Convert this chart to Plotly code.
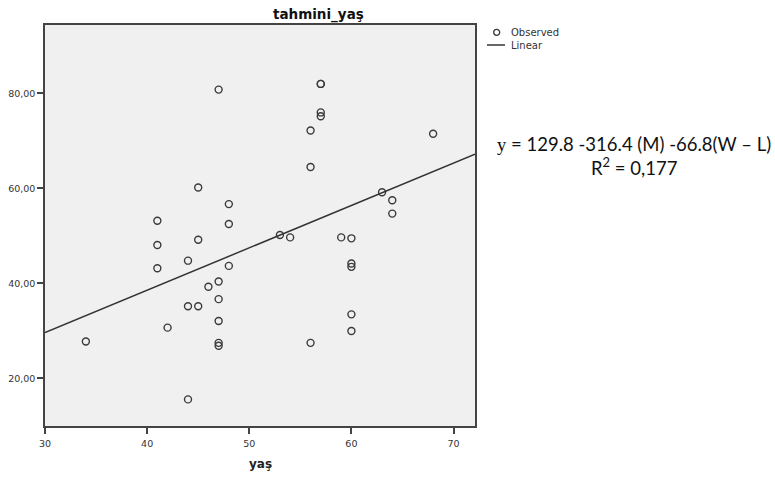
import numpy as np
import plotly.graph_objects as go

# Observed data (yaş vs tahmini_yaş)
age = [34, 41, 41, 41, 42, 44, 44, 44, 45, 45, 45, 46, 47, 47, 47, 47, 47, 47,
       48, 48, 48, 53, 54, 56, 56, 56, 57, 57, 57, 57, 59, 60, 60, 60, 60, 60,
       63, 64, 64, 68]
est_age = [27.8, 53.2, 48.1, 43.2, 30.7, 44.8, 35.2, 15.6, 60.2, 49.2, 35.2, 39.3,
           80.8, 40.4, 36.7, 32.1, 27.5, 26.9, 56.7, 52.5, 43.7, 50.2, 49.7, 72.2,
           64.5, 27.5, 82.0, 82.0, 76.0, 75.2, 49.7, 49.5, 44.2, 43.5, 33.5, 30.0,
           59.2, 57.5, 54.7, 71.5]

x_ticks = [30, 40, 50, 60, 70]
y_ticks = [20, 40, 60, 80]
y_tick_labels = ["20,00", "40,00", "60,00", "80,00"]
x_range = [30, 72.1]
y_range = [10, 94.4]

# linear fit from the data
slope, intercept = np.polyfit(age, est_age, 1)
fit_x = np.array(x_range)
fit_y = intercept + slope * fit_x

fig = go.Figure()
fig.add_trace(go.Scatter(
    x=age, y=est_age, mode="markers", name="Observed",
    marker=dict(symbol="circle-open", size=7, color="#3a3a3a", line=dict(width=1.4)),
    showlegend=False))
fig.add_trace(go.Scatter(
    x=fit_x, y=fit_y, mode="lines", name="Linear",
    line=dict(color="#333333", width=1.5), showlegend=False))

W, H = 775, 477
L, R, T, B = 45, 300, 25, 51
pw, ph = W - L - R, H - T - B

def px(xp):
    return (xp - L) / pw

def py(yp):
    return (H - B - yp) / ph

SPSS = "DejaVu Sans, Liberation Sans, Arial"
EQ = "Lato, Noto Sans"

annotations = [
    dict(text="Observed", x=px(509), y=py(32.5), xref="paper", yref="paper",
         xanchor="left", yanchor="middle", showarrow=False,
         font=dict(family=SPSS, size=10, color="#333")),
    dict(text="Linear", x=px(509), y=py(45.5), xref="paper", yref="paper",
         xanchor="left", yanchor="middle", showarrow=False,
         font=dict(family=SPSS, size=10, color="#333")),
    dict(text="<span style='font-family:Liberation Serif'>y</span> = 129.8 -316.4 (M) -66.8(W – L)",
         x=px(634), y=py(143.5), xref="paper", yref="paper", xanchor="center", yanchor="middle",
         showarrow=False, font=dict(family=EQ, size=18.5, color="#111")),
    dict(text="R<sup>2</sup> = 0,177", x=px(634), y=py(166), xref="paper", yref="paper",
         xanchor="center", yanchor="middle", showarrow=False,
         font=dict(family=EQ, size=18.5, color="#111")),
    dict(text="<b>tahmini_yaş</b>", x=px(318), y=py(14), xref="paper", yref="paper",
         xanchor="center", yanchor="middle", showarrow=False,
         font=dict(family=SPSS, size=13.5, color="#111")),
    dict(text="<b>yaş</b>", x=px(260), y=py(464), xref="paper", yref="paper",
         xanchor="center", yanchor="middle", showarrow=False,
         font=dict(family=SPSS, size=12, color="#222")),
]

shapes = [
    dict(type="circle", xref="paper", yref="paper", xsizemode="pixel", ysizemode="pixel",
         xanchor=px(496.7), yanchor=py(32.3), x0=-3, x1=3, y0=-3, y1=3,
         line=dict(color="#3a3a3a", width=1.3)),
    dict(type="line", xref="paper", yref="paper", x0=px(487), x1=px(505),
         y0=py(45), y1=py(45), line=dict(color="#333", width=1.5)),
]

tickfont = dict(family=SPSS, size=9.5, color="#333")

fig.update_layout(
    width=W, height=H,
    margin=dict(l=L, r=R, t=T, b=B, autoexpand=False),
    paper_bgcolor="white", plot_bgcolor="#f0f0f0",
    showlegend=False,
    annotations=annotations, shapes=shapes,
    xaxis=dict(range=x_range, tickvals=x_ticks, showgrid=False, zeroline=False,
               automargin=False,
               showline=True, mirror=True, linecolor="#444", linewidth=1.5,
               ticks="outside", ticklen=6, tickcolor="#444", tickwidth=1.5,
               ticklabelstandoff=2, tickfont=tickfont),
    yaxis=dict(range=y_range, tickvals=y_ticks, ticktext=y_tick_labels, showgrid=False,
               automargin=False,
               zeroline=False, showline=True, mirror=True, linecolor="#444", linewidth=1.5,
               ticks="outside", ticklen=6, tickcolor="#444", tickwidth=1.5,
               ticklabelstandoff=0, tickfont=tickfont),
)

fig.write_html("out.html")
